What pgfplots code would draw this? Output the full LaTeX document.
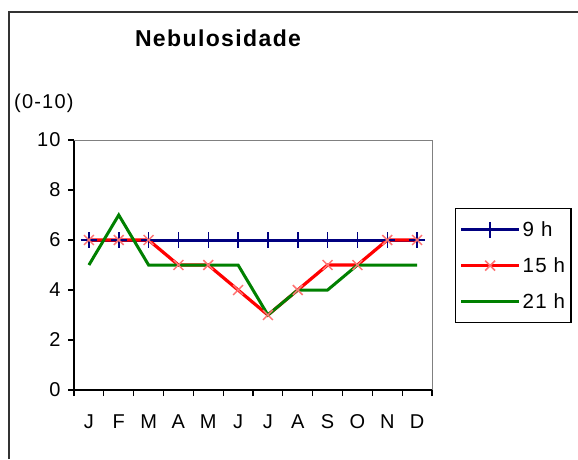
\documentclass[border=0pt]{standalone}
\usepackage{pgfplots}
\pgfplotsset{compat=1.18}
\usepackage{fontspec}
\setmainfont{Liberation Sans}[LetterSpace=6]
\definecolor{navyb}{RGB}{0,0,128}
\definecolor{exred}{RGB}{255,0,0}
\definecolor{exgreen}{RGB}{0,128,0}
\begin{document}
\begin{tikzpicture}[x=1pt,y=1pt]
\useasboundingbox (0,0) rectangle (578,-459);
\draw[line width=1.8pt, color=black!80] (9,-459) -- (9,-12) -- (578,-12);
\node[font=\fontsize{23}{27}\selectfont\bfseries] at (218,-38) {Nebulosidade};
\node[font=\fontsize{20}{24}\selectfont, anchor=west, inner sep=0pt] at (14,-103) {(0-10)};
\begin{axis}[at={(74pt,-390pt)}, anchor=south west, scale only axis,
  width=358pt, height=250pt,
  xmin=-0.5, xmax=11.5, ymin=0, ymax=10,
  axis x line*=bottom, axis y line*=left,
  axis line style={black, line width=1.2pt, -},
  clip=false,
  xtick={0,...,11},
  xticklabels={J,F,M,A,M,J,J,A,S,O,N,D},
  major x tick style={draw=none},
  minor xtick={-0.5,0.5,...,11.5},
  ytick={0,2,...,10},
  tick align=outside,
  major tick length=6pt, minor tick length=6pt,
  tick style={black, line width=1.2pt},
  ticklabel style={font=\fontsize{20}{24}\selectfont},
  /pgf/number format/assume math mode=true,
  xticklabel style={yshift=-15pt},
  yticklabel style={xshift=-4pt},
  legend style={at={(1.064,0.728)}, anchor=north west, draw=black, line width=1.2pt,
    font=\fontsize{20.5}{24}\selectfont, inner xsep=4pt, inner ysep=11pt,
    nodes={inner sep=2pt}, row sep=15.5pt},
  legend cell align=left,
  legend image code/.code={\draw[#1,mark repeat=2,mark phase=2] plot coordinates {(0pt,0pt) (29pt,0pt) (58pt,0pt)};},
]
\draw[gray, line width=1pt] (rel axis cs:0,1) -- (rel axis cs:1,1) -- (rel axis cs:1,0);
\addplot[navyb, line width=3pt, mark=+, mark size=8pt, mark options={line width=1.5pt}]
  coordinates {(0,6) (1,6) (2,6) (3,6) (4,6) (5,6) (6,6) (7,6) (8,6) (9,6) (10,6) (11,6)};
\addlegendentry{9 h}
\addplot[exred, line width=3.2pt, mark=x, mark size=7pt, mark options={line width=1.5pt, color=exred!55}]
  coordinates {(0,6) (1,6) (2,6) (3,5) (4,5) (5,4) (6,3) (7,4) (8,5) (9,5) (10,6) (11,6)};
\addlegendentry{15 h}
\addplot[exgreen, line width=3pt, no marks]
  coordinates {(0,5) (1,7) (2,5) (3,5) (4,5) (5,5) (6,3) (7,4) (8,4) (9,5) (10,5) (11,5)};
\addlegendentry{21 h}
\end{axis}
\end{tikzpicture}
\end{document}
